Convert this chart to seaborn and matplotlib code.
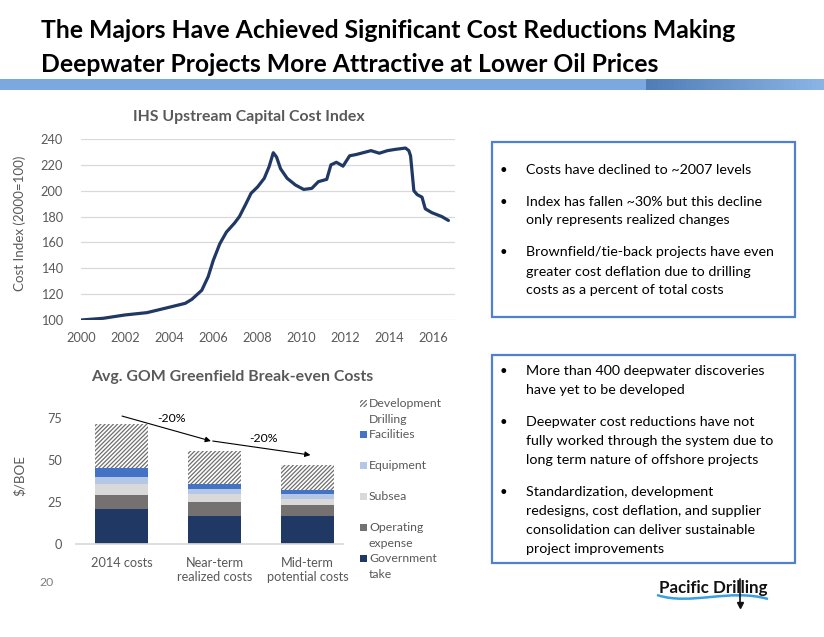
import numpy as np
import pandas as pd
import seaborn as sns
import matplotlib.pyplot as plt
from matplotlib.patches import Rectangle, PathPatch
from matplotlib.path import Path

# ---- data: IHS upstream capital cost index (2000=100) ----
years = [2000.0, 2001.0, 2002.0, 2003.0, 2004.0, 2004.74, 2005.04, 2005.49, 2005.78,
         2006.01, 2006.31, 2006.61, 2006.98, 2007.2, 2007.5, 2007.73, 2008.03, 2008.33,
         2008.55, 2008.74, 2008.89, 2009.07, 2009.37, 2009.75, 2010.12, 2010.49, 2010.79,
         2011.17, 2011.36, 2011.61, 2011.91, 2012.21, 2012.51, 2012.96, 2013.18, 2013.56,
         2013.93, 2014.3, 2014.75, 2014.9, 2014.98, 2015.13, 2015.28, 2015.5, 2015.65,
         2015.95, 2016.4, 2016.7]
cost_index = [100, 101.3, 103.9, 105.7, 109.8, 112.9, 116, 123, 133.5,
              146, 159, 168, 175, 180, 190, 198, 203, 209.6,
              218.6, 229.4, 226, 217, 209.6, 204.4, 201, 201.8, 207,
              208.8, 220, 222, 219, 227, 228, 230, 231, 229,
              231, 232, 233, 231, 227, 200, 197, 195, 186,
              183, 180, 177]

# ---- data: GOM greenfield break-even costs ($/BOE) ----
categories = ["2014 costs", "Near-term\nrealized costs", "Mid-term\npotential costs"]
government_take = [21, 17, 17]
operating_expense = [8, 8, 6]
subsea = [7, 5, 4]
equipment = [4, 3, 3]
facilities = [5, 3, 2]
development_drilling = [26, 19, 15]

components = ["Government\ntake", "Operating\nexpense", "Subsea", "Equipment",
              "Facilities", "Development\nDrilling"]
component_values = [government_take, operating_expense, subsea, equipment,
                    facilities, development_drilling]
component_colors = ["#203864", "#767171", "#D9D9D9", "#B4C7E7", "#4472C4", "white"]

bullets_top = [
    ["Costs have declined to ~2007 levels"],
    ["Index has fallen ~30% but this decline", "only represents realized changes"],
    ["Brownfield/tie-back projects have even", "greater cost deflation due to drilling",
     "costs as a percent of total costs"],
]
bullets_bottom = [
    ["More than 400 deepwater discoveries", "have yet to be developed"],
    ["Deepwater cost reductions have not", "fully worked through the system due to",
     "long term nature of offshore projects"],
    ["Standardization, development", "redesigns, cost deflation, and supplier",
     "consolidation can deliver sustainable", "project improvements"],
]

sns.set_theme(style="white")
plt.rcParams["font.family"] = ["Lato", "DejaVu Sans"]
plt.rcParams["hatch.color"] = "#6E6E6E"
plt.rcParams["hatch.linewidth"] = 0.9

GRAY = "#595959"
HATCH = "////////"
W, H = 824, 637
fig = plt.figure(figsize=(W / 100, H / 100), dpi=100)

# overlay axes in pixel coordinates for slide decoration and text
ov = fig.add_axes([0, 0, 1, 1])
ov.set_xlim(0, W)
ov.set_ylim(H, 0)
ov.axis("off")


def frac(x0, y0, x1, y1):
    return [x0 / W, 1 - y1 / H, (x1 - x0) / W, (y1 - y0) / H]


# slide title
ov.text(41, 38.5, "The Majors Have Achieved Significant Cost Reductions Making",
        fontsize=17.8, fontweight="bold", color="black", va="baseline")
ov.text(41, 71.5, "Deepwater Projects More Attractive at Lower Oil Prices",
        fontsize=17.8, fontweight="bold", color="black", va="baseline")
ov.add_patch(Rectangle((0, 79), W, 10.5, color="#7BA9DF", lw=0))
shades = sns.blend_palette(["#4F7DB6", "#8AB4E6"], n_colors=45)
step = (W - 646) / len(shades)
for k, c in enumerate(shades):
    ov.add_patch(Rectangle((646 + k * step, 79), step + 0.6, 10.5, color=c, lw=0))

# ---- top chart: cost index line ----
ax1 = fig.add_axes(frac(81, 139, 455, 320))
idx = pd.DataFrame({"year": years, "index": cost_index})
sns.lineplot(data=idx, x="year", y="index", color="#203864", linewidth=2.3, ax=ax1)
ax1.lines[0].set_solid_joinstyle("round")
ax1.set_xlim(2000, 2017)
ax1.set_ylim(100, 240)
ax1.set_xticks(range(2000, 2017, 2))
ax1.set_yticks(range(100, 241, 20))
ax1.yaxis.grid(True, color="#D9D9D9", linewidth=0.9)
ax1.set_axisbelow(True)
for s in ax1.spines.values():
    s.set_visible(False)
ax1.tick_params(axis="both", length=0, colors=GRAY, labelsize=9.2)
ax1.tick_params(axis="x", pad=9)
ax1.tick_params(axis="y", pad=13)
ax1.set_xlabel("")
ax1.set_ylabel("")
ov.text(249, 117, "IHS Upstream Capital Cost Index", fontsize=11.4, fontweight="bold",
        color=GRAY, ha="center", va="center")
ov.text(20, 223, "Cost Index (2000=100)", fontsize=9.6, color=GRAY, rotation=90,
        ha="center", va="center")

# ---- bottom chart: stacked break-even costs ----
ax2 = fig.add_axes(frac(76, 409.3, 343, 544.3))
cum = np.cumsum(np.array(component_values), axis=0)
for i in range(len(components) - 1, -1, -1):
    kw = dict(linewidth=0)
    if components[i].startswith("Development"):
        kw.update(hatch=HATCH, edgecolor="#6E6E6E")
    sns.barplot(x=categories, y=cum[i], color=component_colors[i], width=0.57,
                saturation=1, errorbar=None, ax=ax2, **kw)
ax2.set_xlim(-0.49, 2.38)
ax2.set_ylim(0, 80)
ax2.set_yticks([0, 25, 50, 75])
for k, s in ax2.spines.items():
    s.set_visible(k == "bottom")
ax2.spines["bottom"].set_color("#D9D9D9")
ax2.tick_params(axis="both", length=0, colors=GRAY)
ax2.tick_params(axis="y", pad=10, labelsize=9.2)
ax2.tick_params(axis="x", pad=9, labelsize=9.2)
ax2.set_xlabel("")
ax2.set_ylabel("")

arrow = dict(arrowstyle="-|>", color="black", lw=0.8, mutation_scale=8, shrinkA=0, shrinkB=0)
ax2.annotate("", xy=(0.96, 61.2), xytext=(0.005, 76), arrowprops=arrow, annotation_clip=False)
ax2.annotate("", xy=(2.03, 52.9), xytext=(0.98, 61.2), arrowprops=arrow, annotation_clip=False)
ax2.text(0.54, 74.8, "-20%", fontsize=8.8, color="black", ha="center", va="center")
ax2.text(1.52, 62.4, "-20%", fontsize=8.8, color="black", ha="center", va="center")

ov.text(232, 377, "Avg. GOM Greenfield Break-even Costs", fontsize=11.4, fontweight="bold",
        color=GRAY, ha="center", va="center")
ov.text(20, 476, r"\$/BOE", fontsize=9.6, color=GRAY, rotation=90, ha="center", va="center")

# legend (top entry = top of stack)
for j, i in enumerate(range(len(components) - 1, -1, -1)):
    y = 403.5 + 31 * j
    if components[i].startswith("Development"):
        ov.add_patch(Rectangle((360, y - 3.5), 7, 7, facecolor="white", edgecolor="#6E6E6E",
                               hatch=HATCH, lw=0))
    else:
        ov.add_patch(Rectangle((360, y - 3.5), 7, 7, color=component_colors[i], lw=0))
    for n, line in enumerate(components[i].split("\n")):
        ov.text(369, y + 16 * n, line, fontsize=8.8, color=GRAY, va="center")

ov.text(47, 582, "20", fontsize=8.8, color="#7F7F7F", ha="center", va="center")


# ---- text boxes ----
def text_box(x0, y0, x1, y1, paragraphs, first_y):
    ov.add_patch(Rectangle((x0, y0), x1 - x0, y1 - y0, fill=False, edgecolor="#4F81D0", lw=1.6))
    y = first_y
    for para in paragraphs:
        ov.text(503, y, "\u2022", fontsize=9.5, color="black", ha="center", va="center")
        for line in para:
            ov.text(526, y, line, fontsize=10.3, color="black", va="center")
            y += 19
        y += 13


text_box(492, 142, 795, 317, bullets_top, 169.5)
text_box(492, 355, 795, 563, bullets_bottom, 371)

# ---- logo ----
ov.text(713, 588, "Pacific Drilling", fontsize=12.2, fontweight="bold", color="#111111",
        ha="center", va="center")
wave = Path([(657, 595), (690, 606), (730, 588), (768, 599)],
            [Path.MOVETO, Path.CURVE4, Path.CURVE4, Path.CURVE4])
ov.add_patch(PathPatch(wave, facecolor="none", edgecolor="#3AA0E0", lw=1.8))
ov.plot([740, 740], [579, 604], color="#111111", lw=1.2)
ov.plot([740], [605], marker="v", color="#111111", markersize=4)

fig.savefig("out.png", dpi=100)
